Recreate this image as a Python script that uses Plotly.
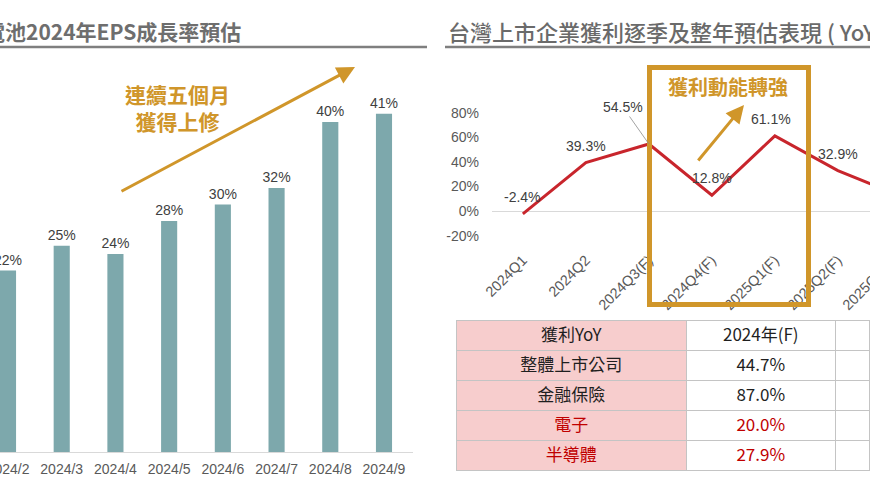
import plotly.graph_objects as go

# ---------------- data ----------------
months = ["2024/2", "2024/3", "2024/4", "2024/5", "2024/6", "2024/7", "2024/8", "2024/9"]
eps_growth = [22, 25, 24, 28, 30, 32, 40, 41]

quarters = ["2024Q1", "2024Q2", "2024Q3(F)", "2024Q4(F)", "2025Q1(F)", "2025Q2(F)", "2025Q3(F)"]
yoy = [-2.4, 39.3, 54.5, 12.8, 61.1, 32.9, 12.0]
y_ticks = [-20, 0, 20, 40, 60, 80]

table_header = ["獲利YoY", "2024年(F)", ""]
table_sectors = ["整體上市公司", "金融保險", "電子", "半導體"]
table_2024 = ["44.7%", "87.0%", "20.0%", "27.9%"]
table_blank = ["", "", "", ""]
sector_colors = ["#1F1F1F", "#1F1F1F", "#C00000", "#C00000"]

left_title = "電池2024年EPS成長率預估"
right_title = "台灣上市企業獲利逐季及整年預估表現 ( YoY )"

# ---------------- style ----------------
W, H = 870, 482
BAR = "#7DA8AC"
RED = "#C8252C"
GOLD = "#D0962A"
PINK = "#F7CDCD"
FONT = "Liberation Sans, Arial, Noto Sans CJK TC, sans-serif"
CJK = "Noto Sans CJK TC, Liberation Sans, sans-serif"


def px_x(p):
    return p / W


def px_y(p):
    return 1 - p / H


# axis geometry (pixels)
L_DOM = (0, 413)
L_BOTTOM, L_TOP = 452, 60
L_R0, L_R1 = -0.149, 7.54
R_DOM = (492, 870)
R_BOTTOM, R_TOP = 245, 95
R_R0, R_R1 = -0.49, 5.51
R_ZERO, R_SCALE = 211, 1.23  # px of zero line, px per %

fig = go.Figure()

fig.add_trace(go.Bar(
    x=months, y=eps_growth, xaxis="x", yaxis="y",
    marker=dict(color=BAR, line=dict(width=0)),
    width=0.3,
    text=[f"{v}%" for v in eps_growth], textposition="outside", constraintext="none",
    textfont=dict(family=FONT, size=14, color="#404040"),
    cliponaxis=False, hoverinfo="skip",
))

fig.add_trace(go.Scatter(
    x=quarters, y=yoy, xaxis="x2", yaxis="y2", mode="lines",
    line=dict(color=RED, width=3), hoverinfo="skip",
))

fig.add_trace(go.Table(
    domain=dict(x=[px_x(456), 1], y=[px_y(474), px_y(320)]),
    columnwidth=[231, 149, 34],
    header=dict(
        values=table_header, height=30,
        fill=dict(color=[PINK, "white", "white"]),
        line=dict(color="#C4C4C4", width=1),
        font=dict(family=CJK, size=17, color="#1F1F1F"),
        align="center",
    ),
    cells=dict(
        values=[table_sectors, table_2024, table_blank], height=30,
        fill=dict(color=[PINK, "white", "white"]),
        line=dict(color="#C4C4C4", width=1),
        font=dict(family=CJK, size=17, color=[sector_colors, sector_colors, sector_colors]),
        align="center",
    ),
))

annotations = []
# titles
annotations.append(dict(text=left_title, xref="paper", yref="paper", x=px_x(243), y=px_y(31),
                        xanchor="right", yanchor="middle", showarrow=False,
                        font=dict(family=CJK, size=21, color="#6E6E6E", weight=700)))
annotations.append(dict(text=right_title, xref="paper", yref="paper", x=px_x(446), y=px_y(31),
                        xanchor="left", yanchor="middle", showarrow=False,
                        font=dict(family=CJK, size=22, color="#6A6A6A", weight=500)))

# line data labels
for i, (q, v) in enumerate(zip(quarters, yoy)):
    if i == 2:
        annotations.append(dict(text=f"{v}%", xref="x2", yref="y2", x=q, y=v,
                                showarrow=True, arrowhead=0, arrowwidth=0.8, arrowcolor="#8C8C8C",
                                ax=-26, ay=-37, font=dict(family=FONT, size=14, color="#404040")))
    else:
        annotations.append(dict(text=f"{v}%", xref="x2", yref="y2", x=q, y=v,
                                showarrow=False, yanchor="bottom", yshift=7,
                                xshift=-4 if i == 4 else 0,
                                font=dict(family=FONT, size=14, color="#404040")))

# partially visible tick label beyond the crop
last_px = R_DOM[0] + (len(quarters) - 1 - R_R0) / (R_R1 - R_R0) * (R_DOM[1] - R_DOM[0])
annotations.append(dict(text=quarters[-1], xref="paper", yref="paper", x=px_x(last_px + 2), y=px_y(250),
                        xanchor="right", yanchor="top", textangle=-45, showarrow=False,
                        font=dict(family=FONT, size=14.5, color="#595959")))

# callouts
annotations.append(dict(text="連續五個月<br>獲得上修", xref="paper", yref="paper", x=px_x(177), y=px_y(107),
                        xanchor="center", yanchor="middle", showarrow=False,
                        font=dict(family=CJK, size=21, color=GOLD, weight=700)))
annotations.append(dict(text="", xref="paper", yref="paper", x=px_x(355), y=px_y(67),
                        axref="pixel", ayref="pixel", ax=-235, ay=125, showarrow=True,
                        arrowhead=2, arrowsize=1.2, arrowwidth=3, arrowcolor=GOLD))
annotations.append(dict(text="獲利動能轉強", xref="paper", yref="paper", x=px_x(728), y=px_y(86),
                        xanchor="center", yanchor="middle", showarrow=False,
                        font=dict(family=CJK, size=20, color=GOLD, weight=700)))
annotations.append(dict(text="", xref="paper", yref="paper", x=px_x(744), y=px_y(105),
                        axref="pixel", ayref="pixel", ax=-47, ay=57, showarrow=True,
                        arrowhead=2, arrowsize=1.2, arrowwidth=3, arrowcolor=GOLD))

shapes = [
    dict(type="line", xref="paper", yref="paper", x0=0, x1=px_x(427), y0=px_y(47), y1=px_y(47),
         line=dict(color="#7F7F7F", width=2.5)),
    dict(type="line", xref="paper", yref="paper", x0=px_x(445), x1=1, y0=px_y(47), y1=px_y(47),
         line=dict(color="#7F7F7F", width=2.5)),
    dict(type="rect", xref="paper", yref="paper", x0=px_x(649.5), x1=px_x(808.5),
         y0=px_y(304.5), y1=px_y(67.5), line=dict(color=GOLD, width=5), layer="above"),
]

fig.update_layout(
    width=W, height=H, margin=dict(l=0, r=0, t=0, b=0, autoexpand=False),
    paper_bgcolor="white", plot_bgcolor="white", showlegend=False,
    font=dict(family=FONT, color="#595959"),
    xaxis=dict(domain=[px_x(L_DOM[0]), px_x(L_DOM[1])], type="category", range=[L_R0, L_R1],
               showline=True, linecolor="#D9D9D9", linewidth=1, showgrid=False, ticks="",
               tickfont=dict(family=FONT, size=14, color="#595959"), ticklabelstandoff=4,
               automargin=False, fixedrange=True),
    yaxis=dict(domain=[px_y(L_BOTTOM), px_y(L_TOP)], range=[0, (L_BOTTOM - L_TOP) / 8.25],
               visible=False, automargin=False, fixedrange=True),
    xaxis2=dict(domain=[px_x(R_DOM[0]), px_x(R_DOM[1])], type="category", range=[R_R0, R_R1],
                anchor="y2", showline=False, showgrid=False, ticks="", tickangle=-45,
                tickfont=dict(family=FONT, size=14.5, color="#595959"), ticklabelstandoff=3,
                automargin=False, fixedrange=True),
    yaxis2=dict(domain=[px_y(R_BOTTOM), px_y(R_TOP)],
                range=[(R_ZERO - R_BOTTOM) / R_SCALE, (R_ZERO - R_TOP) / R_SCALE],
                anchor="x2", tickvals=y_ticks, ticktext=[f"{t}%" for t in y_ticks],
                showgrid=False, zeroline=True, zerolinecolor="#D9D9D9", zerolinewidth=1,
                showline=False, ticks="", ticklabelstandoff=12,
                tickfont=dict(family=FONT, size=14, color="#595959"),
                automargin=False, fixedrange=True),
    annotations=annotations, shapes=shapes,
)

fig.write_html("out.html", config={"displayModeBar": False},
               post_script="document.body.style.margin='0';document.body.style.overflow='hidden';")
